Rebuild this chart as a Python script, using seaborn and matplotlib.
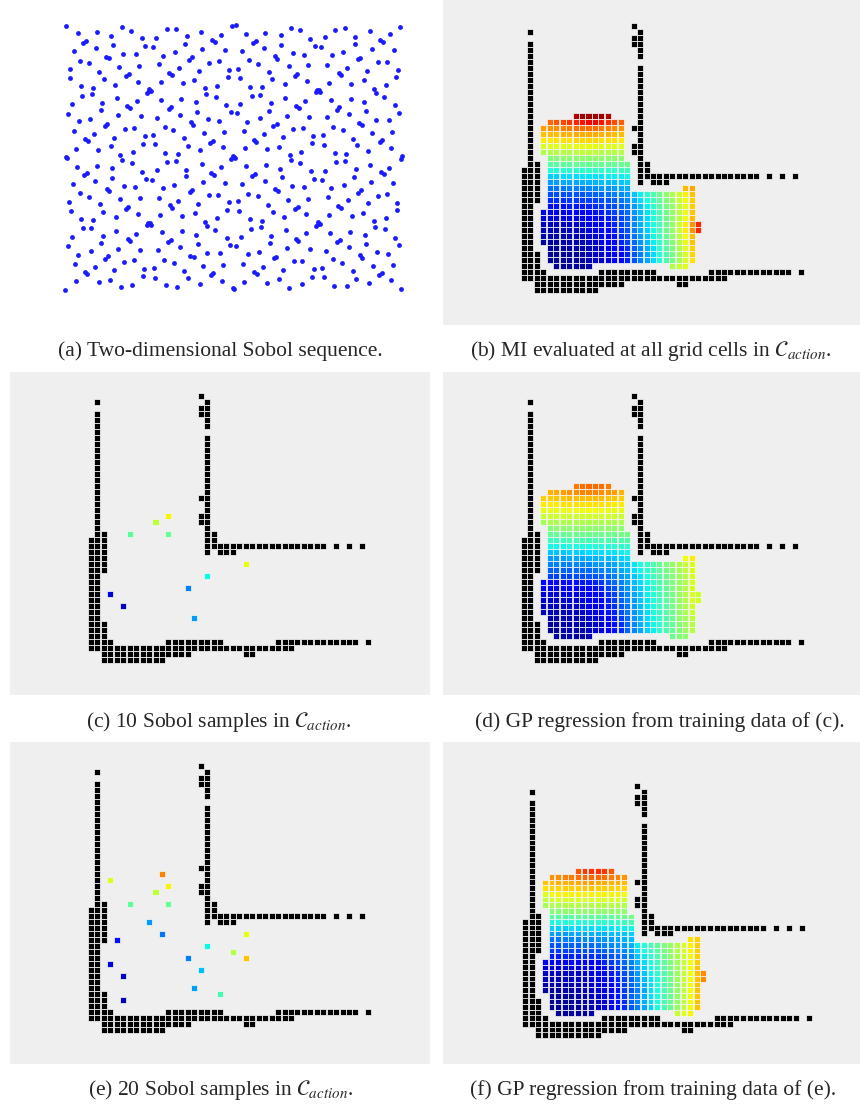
import numpy as np
import pandas as pd
import matplotlib
matplotlib.use("Agg")
import matplotlib.pyplot as plt
import seaborn as sns

W, H = 861, 1109

# --- (a) 2-D Sobol sequence: direction numbers ---
SOBOL_N = 512
SOBOL_BITS = 10
SOBOL_M_DIM2 = [1, 3, 5, 15, 17, 51, 85, 255, 257, 771]

# --- occupancy map: black cells, runs (first col, last col) for rows 0..44 ---
WALL_RUNS = (
    [[(17, 17)],
     [(1, 1), (18, 18)],
     [(17, 18)],
     [(1, 1), (17, 18)],
     [(1, 1), (18, 18)],
     [(1, 1), (18, 18)],
     [(1, 1)]]
    + [[(1, 1), (18, 18)]] * 10
    + [[(1, 1), (17, 18)],
       [(1, 1), (18, 18)],
       [(1, 1), (18, 18)],
       [(1, 1), (17, 18)],
       [(1, 1), (17, 18)],
       [(1, 1), (18, 18)],
       [(1, 2), (18, 19)],
       [(0, 2), (18, 19)],
       [(0, 2), (18, 36), (38, 38), (40, 40), (42, 42)],
       [(0, 2), (18, 18), (20, 22)]]
    + [[(0, 2)]] * 3
    + [[(0, 1)]] * 8
    + [[(0, 2)]] * 3
    + [[(0, 3), (12, 20), (29, 41), (43, 43)],
       [(0, 31)],
       [(2, 15), (24, 25)],
       [(2, 11)]]
)

# --- cells of C_action (rows 15..40) ---
MI_FIRST_ROW = 15
MI_SPANS = (
    [[(8, 13)], [(4, 15)]]
    + [[(3, 15)]] * 5
    + [[(4, 15)]]
    + [[(4, 16)]] * 4
    + [[(4, 16), (25, 26)]]
    + [[(4, 26)]] * 3
    + [[(3, 26)]] * 2
    + [[(3, 27)]] * 2
    + [[(3, 26)]] * 2
    + [[(4, 26)]] * 3
    + [[(5, 10), (23, 25)]]
)

# (b) MI at all cells, percent
MI_B = [
    [96, 97, 97, 97, 97, 96],
    [80, 82, 83, 85, 87, 89, 90, 90, 89, 86, 83, 81],
    [74, 75, 76, 77, 78, 79, 79, 79, 79, 78, 77, 76, 75],
    [70, 71, 71, 72, 72, 73, 73, 73, 73, 72, 72, 71, 71],
    [66, 66, 67, 67, 67, 68, 68, 68, 68, 67, 67, 67, 66],
    [61, 62, 62, 62, 62, 63, 63, 63, 63, 62, 62, 62, 62],
    [56, 57, 57, 57, 57, 58, 58, 58, 58, 57, 57, 57, 57],
    [51, 51, 52, 52, 52, 52, 52, 52, 52, 52, 52, 52],
    [45, 46, 46, 46, 47, 47, 47, 47, 47, 47, 47, 47, 48],
    [39, 39, 40, 40, 40, 40, 41, 41, 41, 41, 41, 42, 42],
    [33, 33, 34, 34, 34, 35, 35, 35, 35, 36, 36, 36, 37],
    [28, 28, 29, 29, 29, 30, 30, 30, 31, 31, 31, 32, 33],
    [24, 24, 24, 25, 25, 25, 26, 26, 27, 27, 28, 29, 30, 71, 73],
    [20, 20, 20, 21, 21, 21, 22, 22, 23, 24, 25, 26, 28, 32, 36, 40, 44, 48, 52, 56, 60, 65, 70],
    [17, 17, 17, 18, 18, 18, 19, 19, 20, 21, 22, 24, 26, 30, 34, 38, 42, 46, 50, 54, 59, 64, 69],
    [14, 14, 14, 15, 15, 15, 16, 17, 18, 19, 20, 22, 24, 28, 32, 36, 40, 45, 49, 53, 58, 63, 69],
    [10, 10, 10, 10, 11, 11, 12, 13, 14, 15, 17, 19, 21, 23, 27, 31, 35, 39, 44, 48, 53, 58, 63, 70],
    [8, 8, 8, 8, 9, 9, 10, 11, 12, 13, 15, 17, 19, 22, 26, 30, 34, 38, 43, 48, 53, 58, 64, 71],
    [6, 6, 6, 6, 7, 7, 8, 9, 10, 12, 14, 16, 19, 22, 26, 30, 34, 38, 43, 48, 53, 59, 66, 75, 87],
    [5, 5, 5, 5, 6, 6, 7, 8, 9, 11, 13, 15, 18, 21, 25, 29, 33, 38, 43, 48, 53, 59, 66, 75, 87],
    [4, 4, 4, 4, 5, 5, 6, 7, 8, 10, 12, 14, 17, 20, 24, 28, 32, 37, 42, 47, 52, 58, 64, 71],
    [3, 3, 3, 4, 4, 5, 5, 6, 7, 9, 11, 13, 16, 19, 23, 27, 31, 36, 41, 46, 51, 57, 63, 70],
    [3, 3, 3, 4, 4, 5, 5, 6, 8, 10, 12, 14, 17, 22, 26, 30, 35, 40, 45, 50, 56, 62, 69],
    [2, 2, 3, 3, 3, 4, 5, 6, 7, 9, 11, 13, 16, 21, 25, 29, 34, 39, 44, 49, 55, 61, 68],
    [2, 2, 2, 3, 3, 4, 5, 6, 7, 9, 11, 13, 16, 21, 25, 29, 34, 39, 44, 49, 55, 61, 67],
    [2, 2, 3, 3, 3, 4, 56, 59, 62],
]

# (d) GP regression from the 10 samples, percent
MI_D = [
    [78, 79, 80, 80, 79, 78],
    [72, 73, 74, 75, 76, 77, 77, 77, 76, 75, 74, 72],
    [69, 69, 70, 70, 71, 71, 71, 71, 71, 71, 70, 70, 69],
    [66, 66, 66, 67, 67, 67, 67, 67, 67, 67, 67, 66, 66],
    [63, 63, 63, 63, 64, 64, 64, 64, 64, 64, 63, 63, 63],
    [59, 60, 60, 60, 60, 60, 60, 60, 60, 60, 60, 60, 59],
    [55, 56, 56, 56, 56, 56, 56, 56, 56, 56, 56, 56, 56],
    [51, 52, 52, 52, 52, 52, 52, 52, 52, 52, 52, 52],
    [47, 47, 47, 48, 48, 48, 48, 48, 48, 48, 48, 49, 49],
    [42, 42, 42, 43, 43, 43, 43, 43, 44, 44, 44, 44, 45],
    [37, 37, 37, 38, 38, 38, 38, 39, 39, 39, 40, 40, 41],
    [32, 32, 32, 33, 33, 33, 34, 34, 34, 35, 35, 36, 37],
    [28, 28, 28, 29, 29, 29, 30, 30, 31, 31, 32, 33, 34, 64, 66],
    [25, 25, 25, 25, 26, 26, 26, 27, 28, 28, 29, 31, 32, 35, 38, 41, 44, 47, 50, 53, 56, 59, 62],
    [22, 22, 22, 22, 23, 23, 23, 24, 25, 26, 27, 29, 31, 34, 37, 40, 43, 46, 49, 52, 55, 58, 62],
    [19, 19, 19, 19, 20, 20, 21, 21, 22, 23, 25, 27, 29, 32, 35, 38, 42, 45, 48, 51, 54, 57, 61],
    [13, 13, 13, 13, 14, 14, 15, 15, 16, 18, 21, 23, 25, 28, 31, 34, 37, 41, 44, 47, 50, 53, 57, 61],
    [10, 10, 10, 11, 11, 12, 12, 13, 14, 16, 19, 21, 24, 27, 30, 33, 36, 40, 43, 46, 50, 53, 57, 61],
    [8, 8, 8, 9, 9, 9, 10, 11, 12, 14, 17, 19, 23, 26, 29, 32, 36, 39, 43, 46, 49, 53, 57, 61, 60],
    [7, 7, 7, 7, 8, 8, 9, 10, 11, 13, 16, 18, 22, 25, 28, 32, 35, 39, 42, 46, 49, 53, 57, 61, 60],
    [6, 6, 6, 6, 7, 7, 8, 9, 10, 12, 15, 17, 21, 24, 28, 31, 35, 38, 42, 45, 49, 53, 56, 60],
    [5, 5, 5, 5, 6, 6, 7, 8, 9, 11, 14, 16, 20, 24, 27, 31, 34, 38, 41, 45, 48, 52, 56, 59],
    [4, 4, 5, 5, 5, 6, 7, 8, 9, 12, 15, 18, 23, 27, 30, 34, 37, 41, 44, 48, 52, 55, 58],
    [3, 4, 4, 4, 5, 5, 6, 7, 8, 11, 14, 17, 22, 26, 30, 33, 37, 40, 44, 47, 51, 54, 57],
    [3, 3, 4, 4, 4, 5, 6, 7, 8, 11, 14, 17, 22, 26, 29, 33, 36, 40, 43, 47, 50, 54, 57],
    [3, 3, 4, 4, 4, 5, 48, 50, 52],
]

# (f) GP regression from the 20 samples, percent
MI_F = [
    [82, 85, 86, 86, 85, 82],
    [75, 76, 77, 78, 79, 80, 80, 80, 79, 78, 77, 75],
    [70, 71, 72, 72, 73, 73, 74, 74, 73, 73, 72, 72, 71],
    [67, 68, 68, 69, 69, 69, 70, 70, 69, 69, 69, 68, 68],
    [62, 64, 65, 65, 65, 65, 65, 65, 65, 65, 65, 65, 64],
    [58, 60, 61, 61, 61, 61, 61, 61, 61, 61, 61, 61, 60],
    [55, 56, 56, 57, 57, 57, 57, 57, 57, 57, 57, 57, 56],
    [51, 51, 52, 52, 52, 52, 52, 52, 52, 52, 52, 52],
    [45, 45, 45, 46, 46, 46, 46, 46, 46, 46, 47, 48, 49],
    [38, 38, 39, 39, 39, 39, 40, 40, 40, 40, 41, 42, 43],
    [33, 33, 33, 34, 34, 34, 34, 35, 35, 35, 36, 36, 37],
    [28, 28, 28, 29, 29, 29, 30, 30, 30, 31, 31, 32, 33],
    [24, 24, 25, 25, 25, 26, 26, 27, 27, 28, 29, 30, 31, 67, 69],
    [21, 21, 22, 22, 22, 23, 23, 24, 25, 26, 27, 28, 30, 36, 39, 43, 46, 50, 53, 57, 61, 65, 69],
    [18, 18, 19, 19, 19, 20, 20, 21, 22, 23, 25, 26, 28, 34, 38, 41, 45, 49, 53, 57, 61, 65, 69],
    [15, 15, 16, 16, 16, 17, 17, 18, 19, 21, 22, 24, 26, 32, 36, 40, 44, 48, 52, 56, 60, 64, 69],
    [10, 10, 10, 10, 11, 11, 12, 12, 13, 16, 18, 20, 23, 25, 30, 34, 38, 42, 46, 50, 55, 59, 64, 69],
    [8, 8, 8, 8, 9, 9, 10, 10, 11, 14, 16, 18, 21, 24, 29, 33, 37, 41, 45, 50, 54, 59, 64, 70],
    [6, 6, 6, 7, 7, 7, 8, 9, 10, 12, 15, 17, 20, 23, 28, 32, 36, 40, 44, 49, 54, 59, 64, 70, 76],
    [5, 5, 5, 6, 6, 6, 7, 8, 9, 11, 14, 16, 19, 22, 27, 31, 35, 39, 44, 49, 54, 59, 64, 70, 76],
    [4, 4, 4, 5, 5, 5, 6, 7, 8, 10, 13, 15, 18, 22, 26, 30, 34, 39, 43, 48, 53, 58, 64, 70],
    [3, 3, 3, 4, 4, 4, 5, 6, 7, 9, 12, 14, 18, 21, 25, 29, 34, 38, 43, 48, 53, 58, 64, 70],
    [3, 3, 3, 3, 4, 5, 6, 7, 9, 12, 15, 18, 22, 26, 30, 34, 38, 43, 48, 53, 58, 64, 70],
    [2, 2, 3, 3, 3, 4, 5, 6, 8, 11, 14, 17, 22, 26, 30, 34, 38, 43, 48, 53, 58, 64, 70],
    [2, 2, 3, 3, 3, 4, 5, 6, 8, 11, 14, 17, 21, 25, 29, 33, 38, 43, 48, 53, 58, 64, 70],
    [2, 2, 3, 3, 3, 4, 59, 62, 65],
]

# (c) 10 Sobol samples
SAMPLES10_COL = [6, 12, 10, 12, 3, 5, 15, 18, 16, 24]
SAMPLES10_ROW = [23, 23, 21, 20, 33, 35, 32, 30, 37, 28]
SAMPLES10_MI = [46, 47, 58, 65, 8, 6, 25, 37, 28, 63]

# (e) 20 Sobol samples
SAMPLES20_COL = [6, 12, 10, 12, 3, 5, 15, 18, 16, 24, 3, 11, 9, 11, 4, 22, 24, 17, 20, 5]
SAMPLES20_ROW = [23, 23, 21, 20, 33, 35, 32, 30, 37, 28, 19, 18, 26, 28, 29, 31, 32, 34, 38, 39]
SAMPLES20_MI = [46, 47, 58, 65, 8, 6, 25, 37, 28, 63, 61, 77, 28, 24, 14, 57, 70, 31, 43, 5]

CAPTIONS = [
    "(a) Two-dimensional Sobol sequence.",
    r"(b) MI evaluated at all grid cells in $\mathcal{C}_{action}$.",
    r"(c) 10 Sobol samples in $\mathcal{C}_{action}$.",
    "(d) GP regression from training data of (c).",
    r"(e) 20 Sobol samples in $\mathcal{C}_{action}$.",
    "(f) GP regression from training data of (e).",
]

JET = matplotlib.colormaps["jet"]
BG = "#efefef"


def sobol_points(n):
    v1 = [1 << (32 - k) for k in range(1, SOBOL_BITS + 1)]
    v2 = [m << (32 - k) for k, m in enumerate(SOBOL_M_DIM2, start=1)]
    x = y = 0
    pts = [(0.0, 0.0)]
    for i in range(1, n):
        c, j = 0, i - 1
        while j & 1:
            j >>= 1
            c += 1
        x ^= v1[c]
        y ^= v2[c]
        pts.append((x / 2 ** 32, y / 2 ** 32))
    return pd.DataFrame(pts, columns=["x", "y"])


def runs_to_frame(runs_per_row, first_row, values=None):
    recs = []
    for r, runs in enumerate(runs_per_row):
        cells = [c for a, b in runs for c in range(a, b + 1)]
        if values is not None:
            assert len(values[r]) == len(cells), (first_row + r, len(values[r]), len(cells))
            vals = values[r]
        else:
            vals = [0] * len(cells)
        for c, v in zip(cells, vals):
            recs.append((c, first_row + r, v / 100.0))
    return pd.DataFrame(recs, columns=["col", "row", "mi"])


def add_axes_px(fig, x0, y0, x1, y1):
    return fig.add_axes([x0 / W, 1 - y1 / H, (x1 - x0) / W, (y1 - y0) / H])


def map_axes(fig, box, col0, pitch_x, row0, pitch_y):
    x0, y0, x1, y1 = box
    ax = add_axes_px(fig, x0, y0, x1, y1)
    ax.set_facecolor(BG)
    for s in ax.spines.values():
        s.set_visible(False)
    lims = ((x0 - col0) / pitch_x, (x1 - col0) / pitch_x,
            (y1 - row0) / pitch_y, (y0 - row0) / pitch_y)
    return ax, lims


def draw_cells(ax, df, size, color=None, hue=False):
    kw = dict(x="col", y="row", marker="s", s=size, linewidth=0.55,
              edgecolor="#f4f4f4", legend=False, ax=ax)
    if hue:
        sns.scatterplot(data=df, hue="mi", palette=JET, hue_norm=(0, 1), **kw)
    else:
        sns.scatterplot(data=df, color=color, **kw)
    ax.set_xlabel("")
    ax.set_ylabel("")


sns.set_style("white")
plt.rcParams["font.family"] = ["Liberation Serif", "DejaVu Serif"]
plt.rcParams["mathtext.fontset"] = "stix"

fig = plt.figure(figsize=(W / 100, H / 100), dpi=100)

walls = runs_to_frame(WALL_RUNS, 0)

# (a) Sobol sequence
axa = add_axes_px(fig, 65, 25, 402, 290)
sob = sobol_points(SOBOL_N)
sns.scatterplot(data=sob, x="x", y="y", color="#1a1aff", s=12, linewidth=0,
                legend=False, ax=axa, clip_on=False)
axa.set_xlim(sob.x.min(), sob.x.max())
axa.set_ylim(sob.y.min(), sob.y.max())
axa.set_axis_off()

# map panels: gray box (px), col 0 x, pitch x, row 0 y, pitch y, marker size
panels = {
    "b": ((443, 0, 860, 325), 524, 6.45, 25.7, 6.0, 19),
    "c": ((10, 372, 430, 695), 91, 6.45, 395.7, 6.0, 19),
    "d": ((443, 372, 860, 695), 524, 6.45, 395.7, 6.0, 19),
    "e": ((10, 742, 430, 1064), 91, 6.45, 766.2, 6.0, 19),
    "f": ((443, 742, 860, 1064), 525.1, 6.6, 786.0, 5.67, 17),
}
fields = {"b": MI_B, "d": MI_D, "f": MI_F}
samples = {
    "c": (SAMPLES10_COL, SAMPLES10_ROW, SAMPLES10_MI),
    "e": (SAMPLES20_COL, SAMPLES20_ROW, SAMPLES20_MI),
}

for key, geo in panels.items():
    ax, lims = map_axes(fig, *geo[:5])
    size = geo[5]
    draw_cells(ax, walls, size, color="black")
    if key in fields:
        draw_cells(ax, runs_to_frame(MI_SPANS, MI_FIRST_ROW, fields[key]), size, hue=True)
    else:
        cols, rows, mi = samples[key]
        df = pd.DataFrame({"col": cols, "row": rows, "mi": np.array(mi) / 100.0})
        draw_cells(ax, df, size, hue=True)
    ax.set_xlim(lims[0], lims[1])
    ax.set_ylim(lims[2], lims[3])
    ax.set_xticks([])
    ax.set_yticks([])

# captions
cap_pos = [(220, 351), (651, 351), (219, 722), (660, 722), (221, 1090), (653, 1090)]
for (cx, cy), text in zip(cap_pos, CAPTIONS):
    fig.text(cx / W, 1 - cy / H, text, ha="center", va="center", fontsize=15.5)

fig.savefig("out.png", dpi=100)
